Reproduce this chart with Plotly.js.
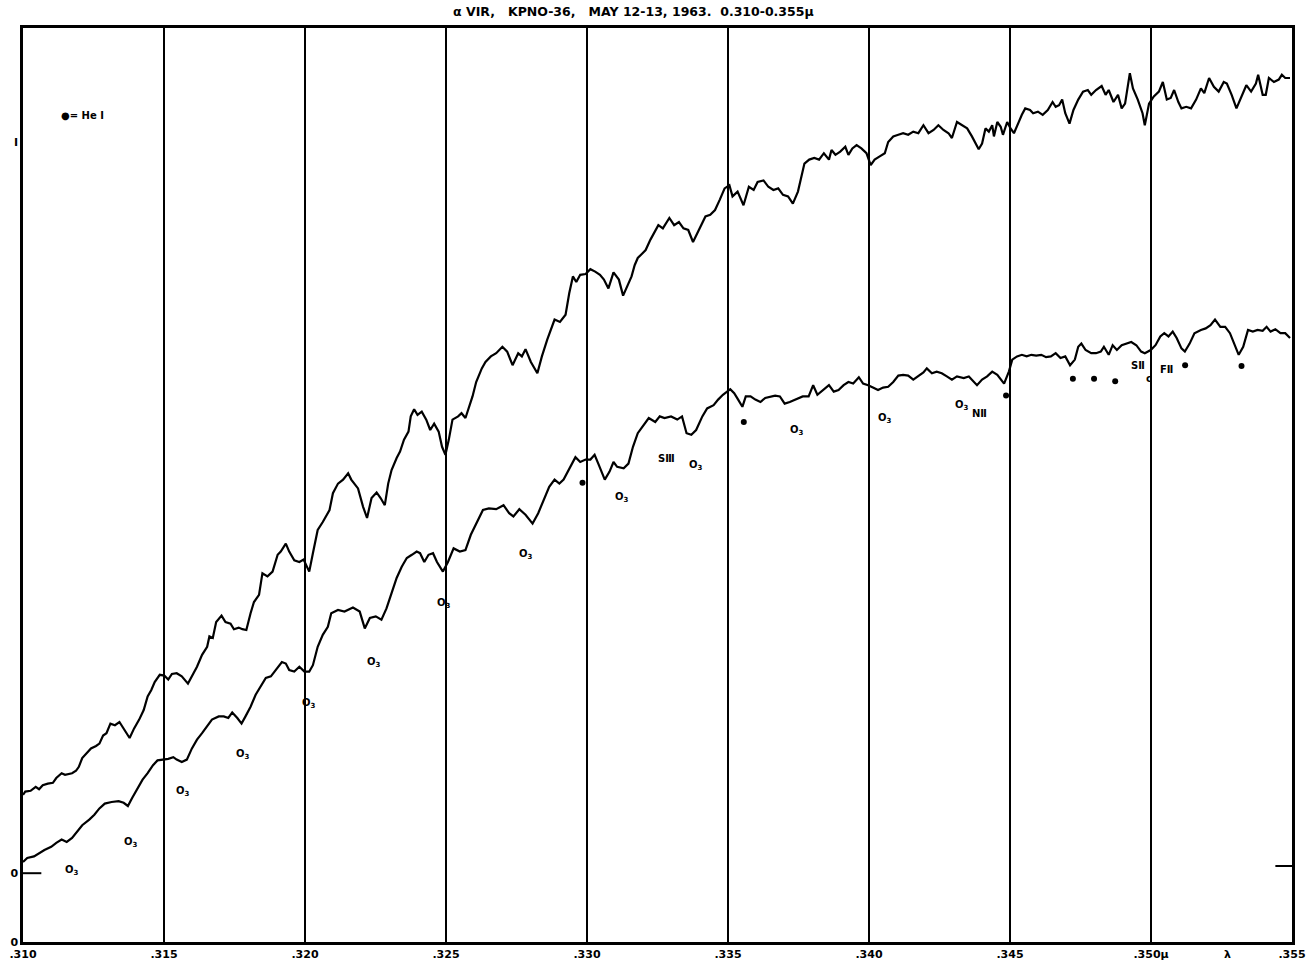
<!DOCTYPE html>
<html>
<head>
<meta charset="utf-8">
<script src="https://cdn.plot.ly/plotly-3.0.1.min.js"></script>
<style>
html,body{margin:0;padding:0;background:#ffffff;}
#chart{width:1314px;height:966px;}
</style>
</head>
<body>
<div id="chart"></div>
<script>
// Wavelength in Angstrom, intensity in % of the "I" level (0 = bottom of chart)
const upperLam = [
3100,3100.8,3102.7,3104.5,3105.7,3107.0,3108.8,3110.6,3111.8,3113.7,
3114.9,3117.4,3118.8,3119.8,3121.0,3122.9,3124.1,3125.9,3127.1,3128.4,
3129.6,3131.0,3132.6,3134.2,3135.7,3137.8,3139.4,3141.2,3142.8,3144.2,
3145.5,3146.7,3148.5,3150.1,3151.5,3152.8,3154.5,3156.3,3158.5,3159.9,
3161.7,3163.5,3165.3,3166.1,3167.3,3168.5,3170.4,3171.8,3173.6,3174.8,
3176.5,3177.8,3179.2,3180.7,3181.9,3183.7,3184.9,3186.7,3188.5,3190.3,
3191.4,3193.2,3194.4,3196.2,3198.0,3199.5,3201.5,3202.8,3204.5,3206.3,
3207.5,3208.7,3209.9,3211.7,3213.5,3215.3,3216.4,3217.6,3218.8,3220.6,
3222.0,3223.6,3225.4,3226.8,3228.3,3229.5,3230.7,3232.5,3233.7,3235.1,
3236.7,3237.5,3238.7,3239.9,3241.4,3243.0,3244.4,3245.8,3247.4,3248.6,
3249.8,3251.0,3252.3,3254.3,3255.5,3256.9,3258.1,3259.4,3260.7,3262.7,
3264.0,3265.9,3267.8,3270.0,3271.7,3273.6,3275.6,3276.9,3278.2,3280.1,
3282.4,3284.0,3285.9,3287.2,3288.5,3290.4,3292.4,3293.7,3295.0,3296.2,
3297.6,3299.5,3301.2,3302.9,3304.6,3306.0,3307.6,3309.4,3311.3,3312.8,
3314.1,3315.8,3316.9,3318.0,3319.7,3320.8,3322.5,3324.2,3325.3,3326.9,
3329.2,3330.9,3332.6,3334.2,3335.9,3337.6,3339.3,3340.9,3342.0,3343.7,
3345.4,3347.1,3348.8,3350.5,3351.6,3353.4,3355.5,3357.4,3359.1,3360.5,
3362.6,3364.3,3366.1,3367.8,3369.5,3371.3,3373.0,3374.8,3375.9,3377.1,
3378.8,3380.6,3382.3,3384.0,3385.8,3386.7,3388.1,3389.8,3391.6,3392.7,
3394.1,3395.6,3397.3,3399.1,3400.6,3402.0,3403.8,3405.6,3406.8,3408.6,
3410.4,3412.1,3413.9,3415.7,3417.5,3419.3,3421.1,3422.9,3424.6,3426.4,
3428.2,3429.4,3431.2,3433.0,3434.8,3436.5,3438.9,3440.1,3441.3,3442.5,
3443.7,3444.3,3445.5,3446.7,3447.5,3449.0,3450.2,3451.4,3452.5,3454.2,
3455.4,3457.1,3458.2,3459.9,3461.6,3463.4,3465.1,3466.2,3467.4,3468.5,
3469.6,3471.1,3472.5,3474.2,3475.9,3477.6,3478.8,3480.5,3482.5,3483.9,
3485.0,3486.7,3488.3,3489.6,3490.8,3491.7,3492.5,3493.6,3495.3,3497.0,
3497.8,3499.3,3501.0,3502.8,3504.2,3505.6,3507.0,3508.2,3509.7,3510.8,
3512.5,3514.2,3516.0,3517.7,3518.9,3520.6,3522.3,3524.0,3525.8,3526.9,
3528.6,3530.3,3531.8,3533.8,3535.5,3537.2,3538.0,3539.6,3540.7,3541.8,
3543.6,3545.3,3546.4,3547.6,3549.3
];
const upperI = [
18.4,18.8,18.9,19.4,19.1,19.6,19.8,19.9,20.5,21.1,
20.9,21.1,21.4,21.9,23.0,23.8,24.2,24.5,24.8,25.8,
26.1,27.3,27.1,27.5,26.7,25.5,26.7,27.8,29.0,30.7,
31.5,32.5,33.4,33.3,32.8,33.5,33.6,33.2,32.3,33.2,
34.4,35.9,36.9,38.2,38.0,40.0,40.8,40.0,39.8,39.1,
39.3,39.1,39.0,41.1,42.5,43.4,46.1,45.7,46.3,48.4,
48.8,49.8,48.8,47.7,47.5,47.8,46.3,48.6,51.5,52.5,
53.2,54.0,56.1,57.3,57.8,58.6,57.8,57.3,56.7,54.4,
53.0,55.5,56.2,55.5,54.6,57.3,59.0,60.5,61.3,62.8,
63.8,65.7,66.6,65.9,66.3,65.3,64.0,64.8,63.8,61.9,
60.9,62.8,65.3,65.7,66.1,65.5,66.7,68.2,70.0,71.7,
72.5,73.2,73.6,74.4,73.8,72.1,73.6,73.2,74.1,72.5,
71.1,73.2,75.3,76.5,77.8,77.5,78.4,81.1,83.2,82.5,
83.4,83.5,84.1,83.8,83.4,82.8,81.7,83.7,82.8,80.8,
81.9,83.2,84.6,85.5,86.1,86.5,87.8,89.0,89.6,89.2,
90.5,89.6,90.0,89.2,89.0,87.5,88.8,89.8,90.7,90.9,
91.5,92.8,94.2,94.6,93.2,93.8,92.1,94.4,94.0,95.0,
95.2,94.4,94.0,94.2,93.4,93.2,92.3,93.8,95.3,97.3,
97.8,98.0,97.8,98.6,97.8,99.0,98.4,98.8,99.4,98.4,
99.2,99.6,99.2,98.6,97.1,97.8,98.2,98.6,100.0,100.7,
100.9,101.1,100.9,101.3,101.1,102.1,101.1,101.5,102.1,101.5,
101.1,100.5,102.5,102.1,101.7,100.7,99.1,99.8,101.7,101.3,
102.1,100.7,102.5,101.9,100.9,102.5,101.7,101.1,102.1,103.4,
104.2,104.0,103.6,103.8,103.4,104.0,105.0,104.4,104.6,105.3,
103.6,102.3,104.0,105.3,106.3,106.5,105.9,106.5,107.0,105.9,
106.5,105.0,105.9,104.2,104.8,107.1,108.6,106.7,105.3,103.6,
102.1,104.8,105.7,106.3,107.5,105.3,105.5,106.5,105.0,104.2,
104.4,104.2,105.3,106.7,106.1,108.0,106.9,106.3,107.5,107.3,
105.9,104.2,105.5,107.1,106.3,107.3,108.4,105.9,105.9,108.0,
107.5,107.8,108.4,108.0,108.0
];
const lowerLam = [
3100,3101.5,3103.9,3105.7,3107.6,3110.0,3111.8,3113.7,3115.5,3117.4,
3119.2,3121.0,3123.5,3125.3,3127.1,3129.0,3131.4,3133.9,3135.7,3137.2,
3138.7,3140.6,3142.4,3144.2,3146.1,3147.7,3149.7,3151.5,3153.3,3154.5,
3156.3,3158.1,3159.9,3161.7,3163.5,3165.3,3167.0,3169.4,3171.2,3172.8,
3174.2,3176.0,3177.5,3178.9,3180.7,3182.5,3184.3,3186.1,3187.9,3189.6,
3191.8,3193.2,3194.4,3196.2,3198.0,3199.8,3201.5,3202.8,3204.5,3206.3,
3208.1,3209.3,3211.7,3214.0,3217.0,3219.4,3221.2,3223.0,3225.1,3227.1,
3228.9,3230.7,3232.5,3234.3,3236.1,3237.9,3239.6,3240.8,3242.3,3243.8,
3245.4,3246.8,3248.9,3250.7,3252.7,3254.9,3256.9,3258.8,3260.7,3263.1,
3265.2,3267.8,3270.4,3272.4,3273.9,3276.0,3278.2,3280.7,3282.7,3284.6,
3286.6,3288.5,3290.2,3291.7,3293.7,3295.9,3297.6,3299.5,3301.2,3302.7,
3304.0,3306.3,3308.0,3309.4,3310.7,3313.0,3314.7,3316.3,3318.0,3319.7,
3321.9,3324.2,3325.8,3327.5,3329.8,3332.0,3333.7,3335.3,3337.0,3338.7,
3340.9,3342.6,3344.9,3346.5,3348.2,3350.8,3352.2,3353.6,3355.1,3356.3,
3358.0,3359.7,3361.5,3363.2,3364.9,3366.7,3368.4,3370.1,3371.9,3374.2,
3376.5,3378.6,3380.2,3381.7,3384.0,3385.8,3387.5,3389.2,3391.0,3392.7,
3394.4,3396.4,3397.9,3399.7,3401.4,3403.2,3405.0,3406.8,3408.6,3410.4,
3412.1,3413.9,3415.7,3417.5,3419.3,3420.5,3422.3,3424.0,3425.8,3427.6,
3429.4,3431.2,3433.6,3435.4,3437.1,3438.3,3440.1,3441.9,3443.7,3445.5,
3447.9,3449.6,3450.8,3452.5,3454.2,3455.9,3457.6,3459.3,3461.1,3462.8,
3464.5,3466.2,3467.9,3469.6,3471.3,3473.0,3474.2,3475.3,3476.8,3478.8,
3480.5,3482.2,3483.3,3485.0,3486.4,3487.9,3489.6,3491.3,3493.0,3494.8,
3496.5,3497.8,3499.9,3501.6,3503.3,3504.7,3506.2,3507.7,3509.1,3510.8,
3512.0,3513.7,3515.4,3517.7,3519.4,3521.1,3522.7,3524.6,3526.3,3528.0,
3529.8,3531.1,3532.7,3534.4,3536.1,3537.8,3539.6,3541.0,3542.4,3544.1,
3545.9,3547.6,3549.3
];
const lowerI = [
10.0,10.5,10.7,11.1,11.5,11.9,12.4,12.8,12.5,13.0,
13.8,14.6,15.3,15.9,16.7,17.3,17.5,17.6,17.4,17.0,
18.0,19.2,20.3,21.1,22.1,22.7,22.8,22.9,23.1,22.8,
22.5,22.8,24.2,25.3,26.1,26.9,27.8,28.2,28.2,28.0,
28.7,28.0,27.3,28.2,29.4,30.9,32.0,33.0,33.2,34.0,
35.0,34.8,34.0,33.8,34.4,33.8,33.8,34.6,36.9,38.4,
39.4,41.1,41.5,41.3,41.8,41.3,39.2,40.5,40.7,40.3,
41.7,43.6,45.5,46.9,48.0,48.4,48.8,48.6,47.5,48.4,
48.6,47.5,46.3,47.5,49.2,48.8,49.0,50.9,52.3,54.0,
54.2,54.1,54.6,53.6,53.2,54.1,53.4,52.3,53.6,55.3,
56.9,57.8,57.3,57.8,59.2,60.6,60.0,60.3,60.3,60.9,
59.8,57.8,58.8,60.0,59.4,59.2,59.8,61.9,63.6,64.4,
65.5,65.0,65.7,65.5,65.7,65.3,65.7,63.6,63.4,64.0,
65.7,66.7,67.1,67.8,68.4,69.1,68.6,67.8,66.9,68.2,
68.2,67.8,67.5,68.0,68.1,68.3,68.2,67.3,67.5,67.8,
68.2,68.2,69.6,68.4,69.1,69.6,68.8,69.0,69.6,70.0,
69.8,70.6,69.8,69.6,69.3,69.0,69.3,69.4,70.0,70.8,
70.9,70.8,70.3,70.8,71.2,71.7,71.1,71.3,71.1,70.7,
70.3,70.7,70.5,70.7,70.0,69.6,70.3,70.7,71.3,70.9,
69.8,71.3,72.8,73.2,73.4,73.2,73.4,73.3,73.4,73.1,
73.2,73.6,73.0,73.2,72.1,72.8,74.4,74.8,74.0,73.6,
73.6,73.8,74.4,73.4,74.6,74.0,74.6,74.8,75.0,74.6,
73.8,73.6,74.0,74.6,75.7,76.1,75.7,76.3,75.5,74.2,
73.8,74.8,76.1,76.5,76.7,77.1,77.8,76.9,76.9,76.1,
74.4,73.4,74.4,76.5,76.3,76.5,76.4,76.9,76.3,76.6,
76.1,76.1,75.5
];
// He I line markers
const heLam = [3298.4,3355.6,3448.6,3472.3,3479.8,3487.3,3512.1,3532.1];
const heI   = [57.4,65.0,68.3,70.4,70.4,70.1,72.1,72.0];
// O3 band labels
const o3Lam = [3117.4,3138.3,3156.8,3177.9,3201.4,3224.3,3249.3,3278.3,3312.4,3338.6,3374.3,3405.7,3432.9];
const o3I   = [9.0,12.4,18.8,23.4,29.8,35.0,42.3,48.4,55.6,59.6,64.0,65.5,67.1];
// Ion labels
const ionText = ['S\u2162','N\u2161','S\u2161','c','F\u2161'];
const ionLam  = [3328.2,3439.3,3495.5,3499.3,3505.5];
const ionI    = [60.5,66.1,72.1,70.5,71.6];
// Axis ticks
const xTickVals = [3100,3150,3200,3250,3300,3350,3400,3450,3500,3550];
const xTickText = ['.310','.315','.320','.325','.330','.335','.340','.345','.350\u03bc','.355'];
const yTickVals = [0,8.6,100];
const yTickText = ['0','0','\u2160'];

const FONT = 'DejaVu Sans, Liberation Sans, sans-serif';

function trim(a,b){const n=Math.min(a.length,b.length);return [a.slice(0,n),b.slice(0,n)];}
const [ux,uy] = trim(upperLam,upperI);
const [lx,ly] = trim(lowerLam,lowerI);

const traces = [
  {x:ux,y:uy,type:'scatter',mode:'lines',line:{color:'#000',width:2.2},hoverinfo:'skip',showlegend:false},
  {x:lx,y:ly,type:'scatter',mode:'lines',line:{color:'#000',width:2.2},hoverinfo:'skip',showlegend:false},
  {x:heLam,y:heI,type:'scatter',mode:'markers',marker:{color:'#000',size:6,symbol:'circle'},hoverinfo:'skip',showlegend:false}
];

const bold = (s)=>({family:FONT,size:s,color:'#000',weight:'bold'});
const annotations = [];
o3Lam.forEach((l,i)=>annotations.push({x:l,y:o3I[i],xref:'x',yref:'y',text:'O<sub>3</sub>',showarrow:false,font:bold(10)}));
ionText.forEach((t,i)=>annotations.push({x:ionLam[i],y:ionI[i],xref:'x',yref:'y',text:t,showarrow:false,font:bold(10)}));
annotations.push({x:3121.0,y:103.3,xref:'x',yref:'y',text:'\u25cf= He \u2160',showarrow:false,font:bold(10)});
annotations.push({x:3527.2,y:0,xref:'x',yref:'paper',yshift:-12,yanchor:'middle',text:'\u03bb',showarrow:false,font:bold(11)});

const layout = {
  width:1314,height:966,
  margin:{l:23,r:22,t:28,b:24,pad:0},
  paper_bgcolor:'#fff',plot_bgcolor:'#fff',
  title:{text:'\u03b1 VIR,\u00a0\u00a0\u00a0KPNO-36,\u00a0\u00a0\u00a0MAY 12-13, 1963.\u00a0\u00a00.310-0.355\u03bc',
         x:0.481,y:0.9876,xanchor:'center',yanchor:'middle',xref:'paper',
         font:bold(12.5)},
  xaxis:{range:[3100,3550],tickvals:xTickVals,ticktext:xTickText,
         showgrid:true,gridcolor:'#000',gridwidth:1.8,
         showline:true,linecolor:'#000',linewidth:2.5,mirror:true,
         ticks:'',zeroline:false,fixedrange:true,
         tickfont:bold(11)},
  yaxis:{range:[0,114.25],tickvals:yTickVals,ticktext:yTickText,
         showgrid:false,showline:true,linecolor:'#000',linewidth:2.5,mirror:true,
         ticks:'',zeroline:false,fixedrange:true,
         tickfont:bold(11)},
  shapes:[
    {type:'line',xref:'x',yref:'y',x0:3100,x1:3106.5,y0:8.6,y1:8.6,line:{color:'#000',width:2}},
    {type:'line',xref:'x',yref:'y',x0:3544.1,x1:3550,y0:9.5,y1:9.5,line:{color:'#000',width:2}}
  ],
  annotations:annotations,
  showlegend:false
};

Plotly.newPlot('chart',traces,layout,{displayModeBar:false});
</script>
</body>
</html>
